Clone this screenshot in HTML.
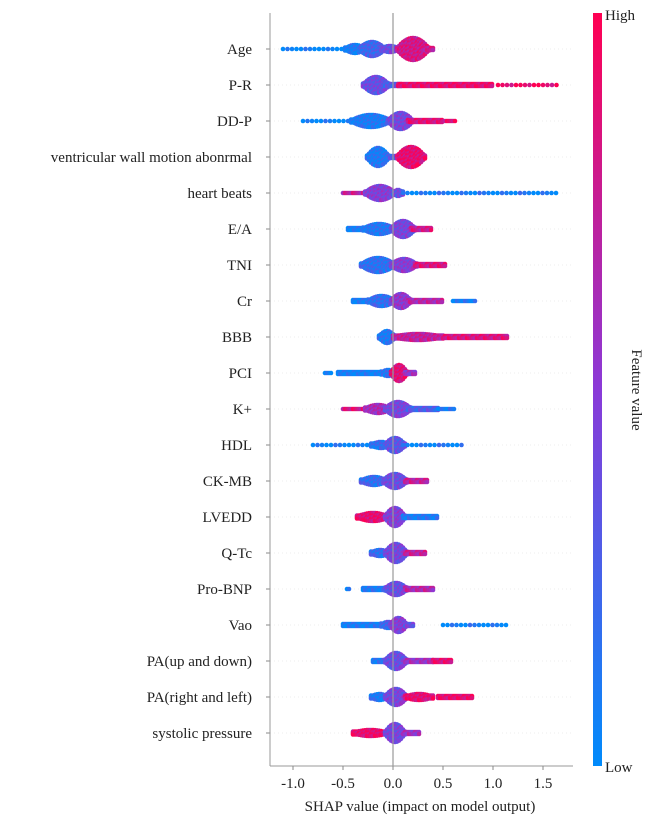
<!DOCTYPE html>
<html><head><meta charset="utf-8">
<style>
body{margin:0;background:#fff;}
svg text{font-family:"Liberation Serif",serif;fill:#222;}
</style></head>
<body>
<svg id="chart" width="646" height="821" viewBox="0 0 646 821" xmlns="http://www.w3.org/2000/svg">
<defs>
<linearGradient id="cb" x1="0" y1="1" x2="0" y2="0">
<stop offset="0" stop-color="#008bfb"/><stop offset="0.5" stop-color="#8a3ad8"/><stop offset="1" stop-color="#ff0052"/>
</linearGradient>
</defs>
<g id="grid"></g>
<g id="dots"></g>
<g id="axes"></g>
</svg>
<script>
const features = ["Age","P-R","DD-P","ventricular wall motion abonrmal","heart beats","E/A","TNI","Cr","BBB","PCI","K+","HDL","CK-MB","LVEDD","Q-Tc","Pro-BNP","Vao","PA(up and down)","PA(right and left)","systolic pressure"];
const xTicks = [-1.0,-0.5,0.0,0.5,1.0,1.5];
const xTickLabels = ["-1.0","-0.5","0.0","0.5","1.0","1.5"];
// segments per feature: [shapStart, shapEnd, halfHeightPx, featureValue 0..1]
const segAge = [[-1.1,-0.45,1,0.03],[-0.48,-0.28,4,0.12],[-0.34,-0.08,7,0.25],[-0.12,0.06,3,0.4],[0.04,0.36,11,0.82],[0.3,0.4,2,0.8]];
const segPR = [[-0.3,-0.04,8,0.4],[-0.08,0.08,2,0.3],[0.05,1.0,2,0.92],[1.05,1.65,1,0.95]];
const segDDP = [[-0.9,-0.4,1,0.03],[-0.42,-0.02,6,0.12],[-0.05,0.2,8,0.45],[0.15,0.5,2,0.88],[0.5,0.62,1,0.9]];
const segVWM = [[-0.26,-0.04,9,0.12],[-0.05,0.05,2,0.3],[0.04,0.32,10,0.9]];
const segHB = [[-0.5,-0.25,1,0.75],[-0.28,0.02,7,0.5],[0.0,0.1,3,0.4],[0.1,1.65,1,0.08]];
const segEA = [[-0.45,-0.25,2,0.1],[-0.3,0.02,5,0.15],[-0.02,0.22,8,0.45],[0.18,0.38,2,0.8]];
const segTNI = [[-0.32,0.02,7,0.18],[-0.02,0.24,6,0.5],[0.22,0.52,2,0.85]];
const segCr = [[-0.4,-0.2,2,0.1],[-0.25,0.02,5,0.2],[-0.02,0.18,7,0.55],[0.15,0.5,2,0.7],[0.6,0.82,1,0.1]];
const segBBB = [[-0.14,0.02,6,0.12],[0.0,0.5,3,0.75],[0.5,1.15,2,0.85]];
const segPCI = [[-0.68,-0.62,1,0.05],[-0.55,-0.1,2,0.08],[-0.12,0.02,3,0.15],[-0.02,0.14,8,0.88],[0.12,0.22,2,0.6]];
const segK = [[-0.5,-0.25,1,0.85],[-0.28,-0.02,4,0.65],[-0.08,0.18,7,0.45],[0.15,0.45,2,0.3],[0.45,0.62,1,0.1]];
const segHDL = [[-0.8,-0.2,1,0.05],[-0.22,-0.02,3,0.2],[-0.08,0.12,7,0.35],[0.1,0.7,1,0.08]];
const segCKMB = [[-0.32,-0.06,4,0.2],[-0.1,0.14,7,0.4],[0.12,0.35,2,0.75]];
const segLVEDD = [[-0.36,-0.04,4,0.9],[-0.08,0.12,9,0.5],[0.1,0.45,2,0.12]];
const segQTc = [[-0.22,-0.04,3,0.2],[-0.08,0.14,9,0.45],[0.12,0.32,2,0.75]];
const segPBNP = [[-0.46,-0.44,1,0.05],[-0.3,-0.05,2,0.12],[-0.08,0.14,6,0.4],[0.12,0.4,2,0.7]];
const segVao = [[-0.5,-0.1,2,0.1],[-0.12,0.02,3,0.25],[-0.03,0.14,7,0.5],[0.12,0.2,2,0.4],[0.5,1.15,1,0.07]];
const segPAUD = [[-0.2,-0.05,2,0.15],[-0.08,0.14,8,0.4],[0.12,0.4,2,0.6],[0.4,0.58,2,0.9]];
const segPARL = [[-0.22,-0.05,3,0.12],[-0.08,0.14,8,0.45],[0.12,0.4,3,0.9],[0.45,0.8,2,0.92]];
const segSys = [[-0.4,-0.05,3,0.92],[-0.08,0.12,9,0.45],[0.1,0.26,2,0.6]];
const allSegs = [segAge,segPR,segDDP,segVWM,segHB,segEA,segTNI,segCr,segBBB,segPCI,segK,segHDL,segCKMB,segLVEDD,segQTc,segPBNP,segVao,segPAUD,segPARL,segSys];

const NS="http://www.w3.org/2000/svg";
const X0=393, XS=100, Y0=49, YS=36, LEFT=270, RIGHT=573, BOTTOM=766, TOP=13;
const xScale=v=>X0+v*XS;
const yRow=i=>Y0+i*YS;
function mk(tag,attrs,parent){const e=document.createElementNS(NS,tag);for(const k in attrs)e.setAttribute(k,attrs[k]);parent.appendChild(e);return e;}
function col(t){
  t=Math.max(0,Math.min(1,t));
  const a=[0,139,251],m=[138,58,216],b=[255,0,82];let c;
  if(t<0.5){const u=t/0.5;c=a.map((v,i)=>Math.round(v+(m[i]-v)*u));}
  else{const u=(t-0.5)/0.5;c=m.map((v,i)=>Math.round(v+(b[i]-v)*u));}
  return `rgb(${c[0]},${c[1]},${c[2]})`;
}
const grid=document.getElementById('grid'),dots=document.getElementById('dots'),axes=document.getElementById('axes');
features.forEach((f,i)=>{
  const y=yRow(i);
  const gl=mk('line',{x1:LEFT,x2:RIGHT,y1:y,y2:y,stroke:'#eee','stroke-dasharray':'1,3'},grid);
  
  
  const g=mk('g',{},dots);
  
  
  allSegs[i].forEach((s,si)=>{
    const [a,b,h,fv]=s;
    const x1=xScale(a),x2=xScale(b);
    const sparse=h<=1&&(b-a)>0.3;
    const step=sparse?4.5:2;
    let k=0;
    for(let x=x1;x<=x2+0.01;x+=step,k++){
      const u=(x2>x1)?(x-x1)/(x2-x1):0.5;
      let hh=h;
      if(h>=3) hh=Math.max(1.5,h*Math.pow(Math.sin(Math.PI*u),0.8));
      if(h===2) hh=1;
      if(h<=1) hh=0;
      const n=hh<1?1:Math.ceil(hh)+1;
      for(let j=0;j<n;j++){
        const dy=n===1?0:(-hh+(2*hh)*j/(n-1));
        const tw=((k*7+j*13+si*5)%9)/9-0.5;
        const c=mk('circle',{cx:x.toFixed(1),cy:(y+dy).toFixed(1),r:2.3,fill:col(fv+tw*0.35)},g);
      }
    }
  });
  const lab=mk('text',{x:252,y:y+5,'text-anchor':'end','font-size':15},axes);
  lab.textContent=f;
  
  
  mk('line',{x1:LEFT-4,x2:LEFT,y1:y,y2:y,stroke:'#888'},axes);
});
const zl=mk('line',{x1:X0,x2:X0,y1:TOP,y2:BOTTOM,stroke:'#999','stroke-width':1.2},axes);


const ls=mk('line',{x1:LEFT,x2:LEFT,y1:TOP,y2:BOTTOM,stroke:'#999'},axes);


const bs=mk('line',{x1:LEFT,x2:RIGHT,y1:BOTTOM,y2:BOTTOM,stroke:'#999'},axes);


xTicks.forEach((t,k)=>{
  mk('line',{x1:xScale(t),x2:xScale(t),y1:BOTTOM,y2:BOTTOM+4,stroke:'#888'},axes);
  const tx=mk('text',{x:xScale(t),y:BOTTOM+22,'text-anchor':'middle','font-size':15},axes);
  tx.textContent=xTickLabels[k];
  
  
});
const xt=mk('text',{x:420,y:811,'text-anchor':'middle','font-size':15},axes);
xt.textContent='SHAP value (impact on model output)';


const cb=mk('rect',{x:593,y:13,width:9,height:753,fill:'url(#cb)'},axes);


const hi=mk('text',{x:605,y:20,'font-size':15},axes);hi.textContent='High';


const lo=mk('text',{x:605,y:772,'font-size':15},axes);lo.textContent='Low';


const fvt=mk('text',{x:632,y:390,'text-anchor':'middle','font-size':15,transform:'rotate(90 632 390)'},axes);
fvt.textContent='Feature value';


</script>
</body></html>
